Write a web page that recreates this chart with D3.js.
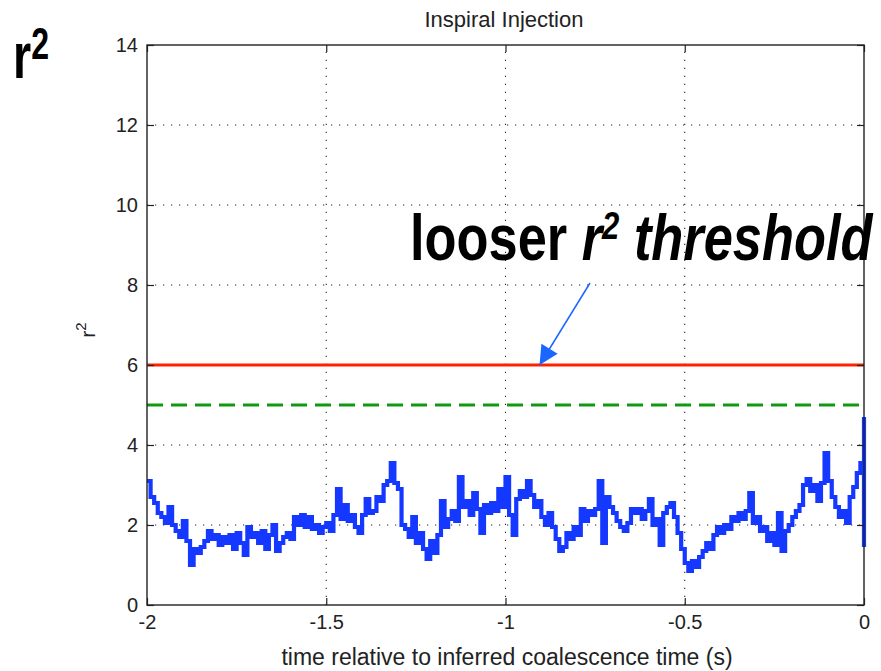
<!DOCTYPE html>
<html>
<head>
<meta charset="utf-8">
<script src="https://cdn.jsdelivr.net/npm/d3@7"></script>
<style>
  html, body { margin: 0; padding: 0; background: #fff; }
  svg { display: block; }
</style>
</head>
<body>
<svg id="chart" width="881" height="671"></svg>
<script>
// r^2 statistic sampled every 10 ms over the 2 s before coalescence
const sampleStep = 0.01;
const tStart = -2;
const r2Values = [
  3.1, 2.7, 2.55, 2.3, 2.2, 2.05, 2.45, 2.0, 1.85, 1.7,
  2.1, 1.6, 1.0, 1.4, 1.3, 1.45, 1.6, 1.85, 1.65, 1.75,
  1.5, 1.7, 1.55, 1.75, 1.4, 1.8, 1.55, 1.25, 1.95, 1.7,
  1.8, 1.55, 1.85, 1.4, 1.75, 2.0, 1.35, 1.55, 1.7, 1.8,
  1.65, 2.2, 2.0, 2.25, 1.95, 2.2, 1.9, 2.0, 1.8, 1.95,
  2.05, 1.85, 2.25, 2.9, 2.15, 2.5, 2.1, 2.25, 1.95, 1.8,
  2.25, 2.65, 2.3, 2.35, 2.7, 2.6, 3.0, 3.1, 3.55, 3.05,
  2.9, 2.0, 1.9, 1.7, 2.2, 1.55, 1.8, 1.4, 1.15, 1.6,
  1.3, 1.75, 2.6, 1.95, 2.15, 2.35, 2.1, 3.2, 2.45, 2.6,
  2.25, 2.8, 2.4, 1.8, 2.5, 2.3, 2.55, 2.35, 2.9, 2.45,
  3.2, 2.25, 1.75, 2.65, 2.85, 2.7, 3.1, 2.75, 2.45, 2.6,
  2.2, 2.0, 2.3, 1.95, 1.65, 1.35, 1.45, 1.8, 1.65, 1.95,
  1.75, 2.4, 2.1, 2.35, 2.25, 2.4, 3.1, 1.55, 2.7, 2.45,
  2.3, 2.1, 1.95, 1.85, 2.05, 2.4, 2.3, 2.4, 2.15, 2.35,
  2.65, 2.0, 2.15, 1.5, 2.3, 2.45, 2.55, 2.2, 1.8, 1.4,
  1.05, 0.85, 1.1, 0.95, 1.2, 1.35, 1.55, 1.4, 1.75, 1.95,
  1.8, 2.0, 1.9, 2.2, 2.1, 2.3, 2.15, 2.35, 2.8, 2.05,
  2.2, 1.85, 1.95, 1.6, 1.8, 1.5, 2.3, 1.35, 1.85, 2.0,
  2.2, 2.35, 2.5, 3.0, 3.15, 2.85, 3.0, 2.6, 3.05, 3.8,
  3.1, 2.7, 2.45, 2.2, 2.35, 2.05, 2.7, 2.95, 3.3, 3.55,
  4.7
];
// value the trace falls to at t = 0
const r2Final = 1.45;

// thresholds
const strictThreshold = 6;
const looseThreshold = 5;

const xTicks = [-2, -1.5, -1, -0.5, 0];
const yTicks = [0, 2, 4, 6, 8, 10, 12, 14];
const xTickLabels = ["-2", "-1.5", "-1", "-0.5", "0"];

const titleText = "Inspiral Injection";
const xLabelText = "time relative to inferred coalescence time (s)";

const svg = d3.select("#chart");
const plot = { left: 147, right: 864, top: 45, bottom: 605 };

const x = d3.scaleLinear().domain([-2, 0]).range([plot.left, plot.right]);
const y = d3.scaleLinear().domain([0, 14]).range([plot.bottom, plot.top]);

const series = r2Values.map((v, i) => ({ t: tStart + i * sampleStep, v }));
series.push({ t: 0, v: r2Final });

const labelFont = "'Liberation Sans', Arial, Helvetica, sans-serif";

// dotted grid
const grid = svg.append("g").attr("stroke", "#222").attr("stroke-width", 1.1)
  .attr("stroke-dasharray", "1.2,6.8");
grid.selectAll("line.gx").data(xTicks.slice(1, -1)).join("line")
  .attr("x1", d => x(d)).attr("x2", d => x(d))
  .attr("y1", plot.bottom).attr("y2", plot.top);
grid.selectAll("line.gy").data(yTicks.slice(1, -1)).join("line")
  .attr("x1", plot.left).attr("x2", plot.right)
  .attr("y1", d => y(d)).attr("y2", d => y(d));

// threshold lines
svg.append("line")
  .attr("x1", x(-2)).attr("x2", x(0))
  .attr("y1", y(strictThreshold)).attr("y2", y(strictThreshold))
  .attr("stroke", "#ff2200").attr("stroke-width", 3);
svg.append("line")
  .attr("x1", x(-2)).attr("x2", x(0))
  .attr("y1", y(looseThreshold)).attr("y2", y(looseThreshold))
  .attr("stroke", "#119911").attr("stroke-width", 3)
  .attr("stroke-dasharray", "16,8");

// r^2 trace, drawn as a staircase
const line = d3.line().x(d => x(d.t)).y(d => y(d.v)).curve(d3.curveStepAfter);
svg.append("path")
  .datum(series)
  .attr("d", line)
  .attr("fill", "none")
  .attr("stroke", "#1438ff")
  .attr("stroke-width", 4.2)
  .attr("stroke-linejoin", "miter");

// axes with inward ticks on all four sides
const tickLen = 7;
const axisStyle = g => {
  g.select(".domain").remove();
  g.selectAll(".tick line").attr("stroke", "#222").attr("stroke-width", 1.2);
  g.selectAll("text").attr("font-family", labelFont).attr("font-size", 20).attr("fill", "#222");
};
svg.append("g").attr("transform", `translate(0,${plot.bottom})`)
  .call(d3.axisBottom(x).tickValues(xTicks).tickFormat((d, i) => xTickLabels[i])
    .tickSizeInner(-tickLen).tickSizeOuter(0).tickPadding(10))
  .call(axisStyle);
svg.append("g").attr("transform", `translate(0,${plot.top})`)
  .call(d3.axisTop(x).tickValues(xTicks).tickFormat("").tickSizeInner(-tickLen).tickSizeOuter(0))
  .call(axisStyle);
svg.append("g").attr("transform", `translate(${plot.left},0)`)
  .call(d3.axisLeft(y).tickValues(yTicks).tickFormat(d3.format("d"))
    .tickSizeInner(-tickLen).tickSizeOuter(0).tickPadding(9))
  .call(axisStyle);
svg.append("g").attr("transform", `translate(${plot.right},0)`)
  .call(d3.axisRight(y).tickValues(yTicks).tickFormat("").tickSizeInner(-tickLen).tickSizeOuter(0))
  .call(axisStyle);

// plot frame
svg.append("rect")
  .attr("x", plot.left).attr("y", plot.top)
  .attr("width", plot.right - plot.left).attr("height", plot.bottom - plot.top)
  .attr("fill", "none").attr("stroke", "#222").attr("stroke-width", 1.4);

// title and axis labels
svg.append("text")
  .attr("x", 504).attr("y", 27)
  .attr("text-anchor", "middle")
  .attr("font-family", labelFont).attr("font-size", 22).attr("fill", "#222")
  .text(titleText);
svg.append("text")
  .attr("x", 507).attr("y", 665)
  .attr("text-anchor", "middle")
  .attr("font-family", labelFont).attr("font-size", 23).attr("fill", "#222")
  .text(xLabelText);
const yLab = svg.append("text")
  .attr("transform", "translate(95,330) rotate(-90)")
  .attr("text-anchor", "middle")
  .attr("font-family", labelFont).attr("font-size", 21).attr("fill", "#222");
yLab.append("tspan").text("r");
yLab.append("tspan").attr("dy", -9).attr("font-size", 15).text("2");

// big condensed annotations: bold text squeezed horizontally to a target width
const boldFont = "'Liberation Sans', Arial, sans-serif";
function condensed(xPos, yPos, targetWidth, build) {
  const g = svg.append("g");
  const t = g.append("text")
    .attr("font-family", boldFont).attr("font-weight", "bold")
    .attr("font-size", 64).attr("fill", "#000");
  build(t);
  const w = t.node().getBBox().width;
  g.attr("transform", `translate(${xPos},${yPos}) scale(${targetWidth / w},1)`);
}
condensed(13, 78, 36, t => {
  t.append("tspan").text("r");
  t.append("tspan").attr("dy", -19).attr("font-size", 44).text("2");
});
condensed(410, 260, 464, t => {
  t.append("tspan").text("looser ");
  t.append("tspan").attr("font-style", "italic").text("r");
  t.append("tspan").attr("font-style", "italic").attr("dy", -21).attr("font-size", 38).text("2");
  t.append("tspan").attr("font-style", "italic").attr("dy", 21).text(" threshold");
});

// arrow pointing at the strict threshold line
const defs = svg.append("defs");
defs.append("marker")
  .attr("id", "arrowHead").attr("viewBox", "0 0 10 10")
  .attr("refX", 10).attr("refY", 5)
  .attr("markerWidth", 21).attr("markerHeight", 19)
  .attr("markerUnits", "userSpaceOnUse")
  .attr("orient", "auto")
  .append("path").attr("d", "M0,0 L10,5 L0,10 Z").attr("fill", "#1a66ff");
svg.append("line")
  .attr("x1", 590).attr("y1", 283)
  .attr("x2", x(-0.905)).attr("y2", y(strictThreshold))
  .attr("stroke", "#1a66ff").attr("stroke-width", 1.5)
  .attr("marker-end", "url(#arrowHead)");
</script>
</body>
</html>
